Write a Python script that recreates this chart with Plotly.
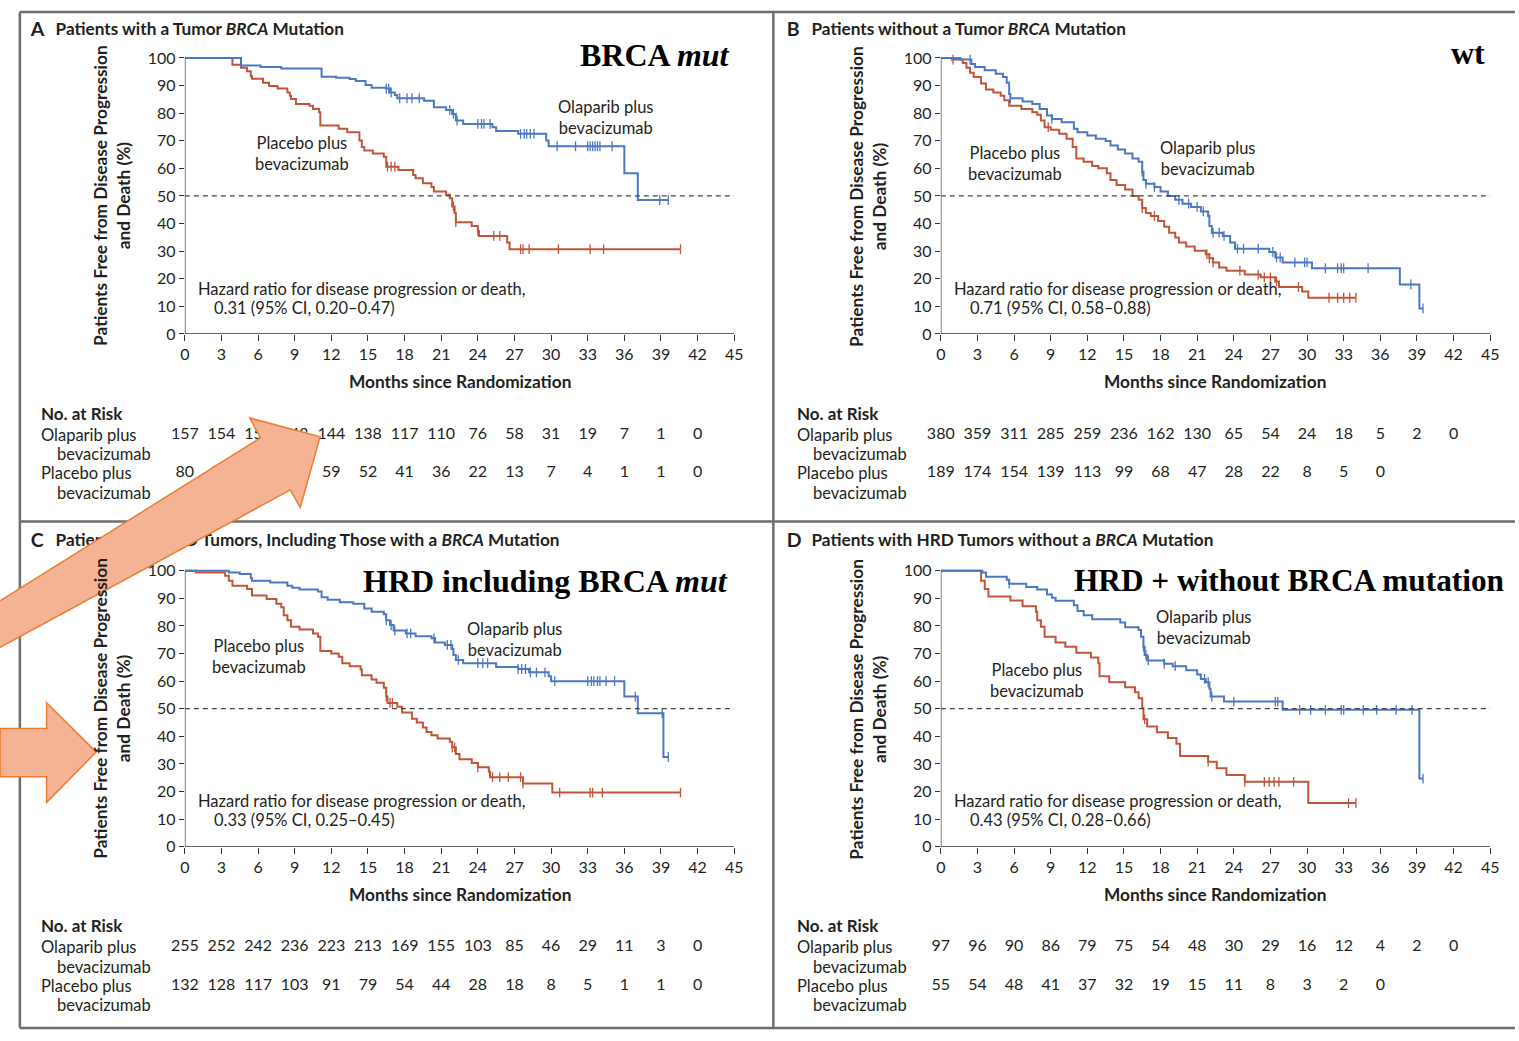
import plotly.graph_objects as go

WIN_W, WIN_H = 1519, 1041
OFF = 0
FW, FH = WIN_W - 2 * OFF, WIN_H - 2 * OFF

BLUE = "#4b78c0"
RED = "#c0553a"
INK = "#231f20"
FONT = "Lato"
SERIF = "Liberation Serif"

# ---------------- data ----------------
x_ticks = list(range(0, 46, 3))
y_ticks = list(range(0, 101, 10))
risk_months = list(range(0, 43, 3))

# Panel A: BRCA mutation
a_ola_t = [0, 4.6, 6.2, 7.9, 11.2, 12.4, 13.5, 14.0, 14.8, 15.3, 16.5, 16.8, 17.2, 17.4, 19.6, 20.4,
           21.4, 21.9, 22.2, 22.8, 25.2, 25.5, 27.3, 29.6, 29.8, 36.0, 37.1]
a_ola_s = [100, 97.3, 96.7, 96.2, 93.2, 92.8, 92.4, 91.6, 90.2, 89.2, 88.9, 87.5, 86.6, 85.4, 84.5, 82.1,
           81.1, 79.7, 77.3, 76.1, 74.9, 73.5, 72.5, 70.1, 68.0, 58.2, 48.5]
a_ola_end = 39.6
a_ola_cens = [16.5, 16.7, 16.9, 17.6, 18.2, 18.6, 19.2, 21.7, 22.0, 22.3, 24.0, 24.3, 24.5, 25.0, 27.5,
              27.8, 28.0, 28.3, 28.6, 30.5, 32.0, 33.0, 33.2, 33.4, 33.6, 33.8, 34.0, 35.0, 38.9, 39.6]
a_pla_t = [0, 3.9, 4.6, 5.1, 5.4, 5.5, 6.4, 6.9, 7.6, 8.4, 8.6, 8.7, 9.1, 10.2, 10.5, 11.0, 11.1, 12.6,
           13.3, 14.3, 14.5, 14.7, 15.4, 16.3, 16.5, 17.5, 18.7, 18.9, 19.5, 20.2, 20.4, 21.4, 21.7, 21.9,
           22.1, 22.2, 23.5, 24.0, 24.1, 26.4, 26.6]
a_pla_s = [100, 97.5, 96.4, 95.2, 93.4, 92.5, 91.0, 89.8, 88.9, 87.5, 86.3, 85.1, 83.3, 82.7, 81.5, 80.3,
           75.5, 74.3, 73.1, 70.1, 67.7, 66.5, 65.4, 64.2, 60.6, 59.4, 57.6, 56.4, 54.6, 53.2, 51.6, 50.4,
           49.2, 46.2, 43.8, 40.5, 39.1, 37.3, 35.5, 33.1, 30.7]
a_pla_end = 40.6
a_pla_cens = [16.6, 16.9, 17.2, 22.0, 22.2, 24.0, 25.3, 25.8, 27.5, 27.7, 28.2, 30.6, 33.2, 34.3, 40.6]
a_risk_ola = [157, 154, 151, 148, 144, 138, 117, 110, 76, 58, 31, 19, 7, 1, 0]
a_risk_pla = [80, 77, 72, 67, 59, 52, 41, 36, 22, 13, 7, 4, 1, 1, 0]

# Panel B: without BRCA mutation
b_ola_t = [0, 1.6, 2.5, 2.8, 3.6, 4.5, 5.1, 5.4, 5.6, 5.7, 6.7, 7.5, 8.1, 8.7, 9.1, 9.9, 10.9, 11.2,
           12.0, 12.7, 13.5, 13.9, 14.5, 15.1, 15.7, 16.2, 16.5, 16.6, 16.8, 17.5, 18.0, 18.6, 19.2, 19.8,
           20.5, 21.3, 21.9, 22.0, 22.2, 23.1, 23.7, 24.1, 26.9, 27.4, 28.0, 30.4, 37.6, 39.2]
b_ola_s = [100, 99.4, 97.8, 96.7, 95.5, 94.3, 93.1, 91.0, 86.9, 85.4, 84.2, 83.3, 81.5, 79.1, 77.9, 76.7,
           74.3, 73.1, 71.9, 70.7, 69.9, 68.3, 66.8, 65.4, 63.6, 62.4, 58.8, 55.8, 54.4, 53.2, 51.6, 50.0,
           48.6, 47.2, 46.0, 44.4, 42.7, 39.1, 36.7, 35.5, 33.1, 30.9, 29.7, 27.7, 25.9, 23.8, 17.9, 9.2]
b_ola_end = 39.5
b_ola_cens = [2.4, 5.7, 9.1, 16.5, 16.8, 17.5, 19.5, 20.3, 21.0, 21.5, 22.3, 22.8, 23.2, 24.3, 24.8,
              26.0, 27.2, 27.5, 27.8, 29.0, 29.8, 30.0, 31.5, 32.5, 32.8, 33.0, 35.0, 38.5, 39.5]
b_pla_t = [0, 0.9, 1.8, 2.1, 2.4, 2.7, 3.3, 3.7, 4.3, 4.9, 5.2, 5.6, 6.6, 7.5, 7.9, 8.2, 8.5, 9.0, 9.7,
           10.3, 10.8, 11.1, 11.7, 12.4, 12.9, 13.6, 13.9, 14.4, 15.1, 15.7, 16.2, 16.5, 16.8, 17.2, 17.8,
           18.3, 18.7, 19.2, 19.5, 20.1, 20.8, 21.7, 22.0, 22.3, 22.8, 23.4, 24.9, 26.2, 27.4, 27.7, 29.6,
           30.1]
b_pla_s = [100, 99.4, 98.2, 96.4, 94.6, 93.1, 90.7, 88.6, 87.5, 86.3, 84.7, 82.7, 81.5, 80.3, 79.4, 77.3,
           74.9, 74.0, 72.5, 70.7, 67.7, 63.6, 62.4, 60.8, 60.0, 58.2, 55.8, 54.0, 52.3, 50.0, 48.6, 45.6,
           43.8, 42.7, 40.9, 38.8, 36.7, 34.9, 33.1, 31.7, 30.1, 28.9, 27.4, 25.9, 24.1, 22.9, 21.5, 20.5,
           19.0, 17.0, 15.4, 13.1]
b_pla_end = 34.0
b_pla_cens = [1.0, 8.8, 16.5, 17.5, 21.8, 22.0, 22.3, 24.5, 26.0, 26.5, 27.0, 27.5, 29.3, 31.8, 32.5,
              33.0, 33.5, 34.0]
b_risk_ola = [380, 359, 311, 285, 259, 236, 162, 130, 65, 54, 24, 18, 5, 2, 0]
b_risk_pla = [189, 174, 154, 139, 113, 99, 68, 47, 28, 22, 8, 5, 0]

# Panel C: HRD including BRCA mutation
c_ola_t = [0, 3.6, 4.5, 5.4, 5.5, 7.0, 8.4, 8.8, 9.4, 10.9, 11.2, 11.7, 12.7, 13.8, 14.7, 15.3, 16.3,
           16.5, 16.8, 17.1, 18.1, 18.9, 20.2, 20.5, 21.3, 21.9, 22.0, 22.2, 22.8, 25.5, 27.3, 28.2, 29.8,
           30.0, 36.0, 37.1, 39.2]
c_ola_s = [100, 99.4, 98.8, 97.4, 96.4, 95.7, 94.6, 93.8, 93.2, 92.5, 90.4, 89.5, 88.6, 88.0, 86.3, 85.1,
           84.2, 82.1, 80.3, 78.3, 77.3, 76.3, 75.5, 74.0, 73.1, 71.6, 69.5, 67.7, 66.5, 65.1, 64.4, 63.2,
           61.8, 60.0, 54.4, 48.4, 32.5]
c_ola_end = 39.6
c_ola_cens = [16.5, 16.9, 17.2, 18.2, 18.5, 20.4, 21.5, 21.8, 22.4, 24.0, 24.4, 24.8, 27.3, 27.6, 27.9,
              28.3, 28.8, 29.5, 30.3, 33.0, 33.3, 33.5, 33.8, 34.0, 34.5, 35.2, 36.9, 39.1, 39.6]
c_pla_t = [0, 0.9, 3.3, 3.6, 3.9, 5.1, 5.5, 6.7, 7.5, 7.9, 8.1, 8.4, 8.7, 9.4, 10.5, 10.9, 11.1, 12.0,
           12.6, 12.9, 13.5, 14.4, 14.5, 15.3, 15.7, 16.3, 16.5, 16.6, 17.4, 17.8, 18.6, 19.0, 19.5, 19.8,
           20.2, 20.7, 21.7, 21.9, 22.2, 22.5, 23.5, 24.0, 24.9, 25.0, 27.7, 30.1]
c_pla_s = [100, 99.4, 98.2, 96.4, 94.6, 93.4, 91.0, 89.8, 88.0, 86.8, 83.9, 82.1, 79.7, 78.7, 77.3, 76.1,
           70.9, 70.0, 68.8, 66.5, 65.4, 64.2, 62.1, 60.6, 59.4, 57.6, 54.4, 52.1, 50.7, 48.6, 46.4, 45.0,
           43.2, 41.6, 40.4, 39.2, 38.0, 36.0, 33.6, 31.7, 30.3, 28.8, 27.2, 25.2, 22.9, 19.6]
c_pla_end = 40.6
c_pla_cens = [16.5, 16.8, 17.0, 21.9, 22.1, 24.0, 25.2, 25.8, 26.5, 27.5, 27.7, 30.7, 33.2, 33.4, 34.2, 40.6]
c_risk_ola = [255, 252, 242, 236, 223, 213, 169, 155, 103, 85, 46, 29, 11, 3, 0]
c_risk_pla = [132, 128, 117, 103, 91, 79, 54, 44, 28, 18, 8, 5, 1, 1, 0]

# Panel D: HRD without BRCA mutation
d_ola_t = [0, 3.4, 3.7, 5.4, 5.6, 7.0, 7.9, 8.7, 9.1, 9.4, 10.9, 11.2, 11.7, 12.4, 14.7, 15.1, 16.2,
           16.4, 16.6, 16.7, 16.9, 18.3, 19.0, 20.1, 21.0, 21.3, 21.7, 22.0, 22.1, 23.2, 28.0, 39.2]
d_ola_s = [100, 99.4, 97.8, 96.7, 95.3, 94.1, 93.2, 91.4, 90.2, 89.1, 87.5, 85.4, 83.9, 82.4, 81.2, 79.5,
           78.5, 76.1, 72.5, 69.5, 67.5, 66.3, 65.4, 63.9, 62.4, 60.8, 59.6, 57.2, 54.4, 52.6, 49.6, 24.7]
d_ola_end = 39.5
d_ola_cens = [5.6, 16.6, 16.8, 17.0, 18.3, 19.2, 21.6, 21.9, 22.2, 24.0, 27.4, 27.6, 29.4, 30.3, 31.5,
              32.8, 33.0, 34.6, 35.7, 37.3, 38.6, 39.5]
d_pla_t = [0, 3.3, 3.6, 3.9, 5.7, 6.7, 7.8, 7.9, 8.2, 8.5, 9.4, 10.2, 11.1, 12.3, 12.9, 13.0, 13.8,
           15.1, 15.9, 16.2, 16.5, 16.6, 16.9, 17.7, 18.6, 19.3, 19.6, 21.9, 22.6, 23.4, 24.9, 30.1]
d_pla_s = [100, 96.4, 93.4, 90.7, 89.2, 87.1, 85.1, 82.1, 79.7, 76.1, 74.0, 72.5, 70.3, 68.6, 66.5, 61.8,
           59.6, 57.8, 56.0, 53.8, 50.3, 46.2, 43.6, 41.5, 39.4, 37.3, 32.9, 30.8, 28.4, 26.0, 23.5, 15.8]
d_pla_end = 34.0
d_pla_cens = [16.7, 21.9, 24.9, 26.5, 26.9, 27.3, 27.7, 28.9, 33.4, 34.0]
d_risk_ola = [97, 96, 90, 86, 79, 75, 54, 48, 30, 29, 16, 12, 4, 2, 0]
d_risk_pla = [55, 54, 48, 41, 37, 32, 19, 15, 11, 8, 3, 2, 0]

# ---------------- layout geometry (window pixels) ----------------
# (x at month 0, x at month 45, y at 100 %, y at 0 %)
GEOM = {
    1: (181.5, 736.0, 52.7, 332.7),
    2: (944.5, 1499.0, 52.7, 332.7),
    3: (181.5, 736.0, 573.0, 853.0),
    4: (944.5, 1499.0, 573.0, 853.0),
}
YMAX = 101.5
PAD = 3  # annotation inner padding


def PX(sx):
    return (sx - OFF) / FW


def PY(sy):
    return 1 - (sy - OFF) / FH


def step_val(t, s, x):
    v = s[0]
    for ti, si in zip(t, s):
        if ti <= x:
            v = si
    return v


panels = [
    dict(k=1, ola=(a_ola_t, a_ola_s, a_ola_end, a_ola_cens), pla=(a_pla_t, a_pla_s, a_pla_end, a_pla_cens),
         risk=(a_risk_ola, a_risk_pla)),
    dict(k=2, ola=(b_ola_t, b_ola_s, b_ola_end, b_ola_cens), pla=(b_pla_t, b_pla_s, b_pla_end, b_pla_cens),
         risk=(b_risk_ola, b_risk_pla)),
    dict(k=3, ola=(c_ola_t, c_ola_s, c_ola_end, c_ola_cens), pla=(c_pla_t, c_pla_s, c_pla_end, c_pla_cens),
         risk=(c_risk_ola, c_risk_pla)),
    dict(k=4, ola=(d_ola_t, d_ola_s, d_ola_end, d_ola_cens), pla=(d_pla_t, d_pla_s, d_pla_end, d_pla_cens),
         risk=(d_risk_ola, d_risk_pla)),
]

fig = go.Figure()
layout_axes = {}
shapes = []
annotations = []


def ref(k, axis):
    return axis if k == 1 else f"{axis}{k}"


for p in panels:
    k = p["k"]
    x0, x1, y100, y0 = GEOM[k]
    xr, yr = ref(k, "x"), ref(k, "y")
    for (t, s, end, cens), col in ((p["pla"], RED), (p["ola"], BLUE)):
        fig.add_trace(go.Scatter(x=t + [end], y=s + [s[-1]], mode="lines", xaxis=xr, yaxis=yr,
                                 line=dict(shape="hv", color=col, width=2), hoverinfo="skip",
                                 showlegend=False))
        fig.add_trace(go.Scatter(x=cens, y=[step_val(t, s, c) for c in cens], mode="markers",
                                 xaxis=xr, yaxis=yr,
                                 marker=dict(symbol="line-ns-open", size=7, color=col,
                                             line=dict(color=col, width=1.3)),
                                 hoverinfo="skip", showlegend=False))
    top = y100 - (YMAX - 100) * (y0 - y100) / 100.0
    layout_axes[ref(k, "xaxis")] = dict(
        domain=[PX(x0), PX(x1)], range=[0, 45], anchor=yr, tickvals=x_ticks, ticks="outside",
        ticklen=6, tickwidth=1.2, tickcolor="#333", showline=False, showgrid=False, zeroline=False,
        tickfont=dict(family=FONT, size=16, color=INK), fixedrange=True)
    layout_axes[ref(k, "yaxis")] = dict(
        domain=[PY(y0), PY(top)], range=[0, YMAX], anchor=xr, tickvals=y_ticks, ticks="outside",
        ticklen=5, tickwidth=1.2, tickcolor="#333", showline=False, showgrid=False, zeroline=False,
        tickfont=dict(family=FONT, size=16, color=INK), fixedrange=True)
    shapes.append(dict(type="line", xref=xr, yref=yr, x0=0, x1=45, y0=0, y1=0, line=dict(color="#333", width=1.3)))
    shapes.append(dict(type="line", xref=xr, yref=yr, x0=0, x1=0, y0=0, y1=100, line=dict(color="#333", width=1.3)))
    shapes.append(dict(type="line", xref=xr, yref=yr, x0=0, x1=45, y0=50, y1=50,
                       line=dict(color="#444", width=1.2, dash="5px,4px")))

# full-page overlay axis in window pixels: texts drawn here sit below the arrows
layout_axes["xaxis5"] = dict(domain=[0, 1], range=[OFF, OFF + FW], visible=False, fixedrange=True, anchor="y5")
layout_axes["yaxis5"] = dict(domain=[0, 1], range=[OFF + FH, OFF], visible=False, fixedrange=True, anchor="x5")


def page_text(xs, ys, texts, size, pos="middle right"):
    fig.add_trace(go.Scatter(x=xs, y=ys, mode="text", text=texts, textposition=pos,
                             textfont=dict(family=FONT, size=size, color=INK), xaxis="x5", yaxis="y5",
                             cliponaxis=False, hoverinfo="skip", showlegend=False))


titles = [
    (26, 25, "A", 51, "Patients with a Tumor <i>BRCA</i> Mutation"),
    (789, 25, "B", 814, "Patients without a Tumor <i>BRCA</i> Mutation"),
    (26, 544, "C", 51, "Patients with HRD Tumors, Including Those with a <i>BRCA</i> Mutation"),
    (789, 544, "D", 814, "Patients with HRD Tumors without a <i>BRCA</i> Mutation"),
]
for lx, ly, letter, tx, txt in titles:
    page_text([lx], [ly], ["<b>" + letter + "</b>"], 19.5)
    page_text([tx], [ly], ["<b>" + txt + "</b>"], 17.2)

# numbers at risk, centred under the month ticks of each panel
for p in panels:
    k = p["k"]
    x0, x1, _, _ = GEOM[k]
    base = 0 if k < 3 else 520
    for vals, py in ((p["risk"][0], 435 + base), (p["risk"][1], 474 + base)):
        xs = [x0 + m * (x1 - x0) / 45.0 for m in risk_months[:len(vals)]]
        page_text(xs, [py] * len(vals), [str(v) for v in vals], 16, pos="middle center")


def ann(sx, sy, text, size=16, xanchor="left", family=FONT, color=INK, angle=0, align="left"):
    if xanchor == "left":
        sx -= PAD
    elif xanchor == "right":
        sx += PAD
    annotations.append(dict(x=PX(sx), y=PY(sy), xref="paper", yref="paper", text=text, showarrow=False,
                            xanchor=xanchor, yanchor="middle", align=align, textangle=angle,
                            font=dict(family=family, size=size, color=color)))


HR = {1: "0.31 (95% CI, 0.20\u20130.47)", 2: "0.71 (95% CI, 0.58\u20130.88)",
      3: "0.33 (95% CI, 0.25\u20130.45)", 4: "0.43 (95% CI, 0.28\u20130.66)"}
for k in (1, 2, 3, 4):
    x0, x1, y100, y0 = GEOM[k]
    dx = x0 - 181.5
    dy = 0 if k < 3 else 520
    ann(108 + dx, (y100 + y0) / 2, "<b>Patients Free from Disease Progression<br>and Death (%)</b>",
        size=17.3, xanchor="center", angle=-90, align="center")
    ann((x0 + x1) / 2, 381 + dy, "<b>Months since Randomization</b>", size=17.3, xanchor="center")
    ann(196 + dx, 287 + dy, "Hazard ratio for disease progression or death,", size=16.5)
    ann(212 + dx, 306 + dy, HR[k], size=16.5)
    ann(37 + dx, 413 + dy, "<b>No. at Risk</b>", size=17)
    ann(37 + dx, 435 + dy, "Olaparib plus", size=16.5)
    ann(53 + dx, 455 + dy, "bevacizumab", size=16.5)
    ann(37 + dx, 474 + dy, "Placebo plus", size=16.5)
    ann(53 + dx, 494 + dy, "bevacizumab", size=16.5)

for (cx, cy) in ((607, 113.5), (1214, 154.5), (515, 642.5), (1210, 630.5)):
    ann(cx, cy, "Olaparib plus<br>bevacizumab", size=16.5, xanchor="center", align="center")
for (cx, cy) in ((300, 150), (1019, 159.5), (256, 660.5), (1042, 684.5)):
    ann(cx, cy, "Placebo plus<br>bevacizumab", size=16.5, xanchor="center", align="center")

ann(731, 50, "<b>BRCA <i>mut</i></b>", size=32, xanchor="right", family=SERIF, color="#000")
ann(1493, 48, "<b>wt</b>", size=32, xanchor="right", family=SERIF, color="#000")
ann(729, 583, "<b>HRD including BRCA <i>mut</i></b>", size=32, xanchor="right", family=SERIF, color="#000")
ann(1080, 583, "<b>HRD + without BRCA mutation</b>", size=31.3, xanchor="left", family=SERIF, color="#000")

FRAME = "#6e6e6e"
for (ax0, ay0, ax1, ay1) in ((15, 6, WIN_W + 5, 6), (15, 6, 15, 1037), (775.5, 6, 775.5, 1037),
                             (15, 523, WIN_W + 5, 523), (15, 1037, WIN_W + 5, 1037)):
    shapes.append(dict(type="line", xref="paper", yref="paper", x0=PX(ax0), x1=PX(ax1),
                       y0=PY(ay0), y1=PY(ay1), line=dict(color=FRAME, width=2.5)))


def path(pts):
    return "M " + " L ".join(f"{PX(x):.5f},{PY(y):.5f}" for x, y in pts) + " Z"


arrow1 = [(-20, 613), (258, 438), (247, 418), (318, 437), (298, 509), (288, 491), (-20, 659)]
arrow2 = [(-5, 733), (42, 733), (42, 707), (92, 757), (42, 808), (42, 782), (-5, 782)]
for pts in (arrow1, arrow2):
    shapes.append(dict(type="path", xref="paper", yref="paper", path=path(pts), layer="above",
                       fillcolor="#F4B394", line=dict(color="#ED7D31", width=1.5)))

fig.update_layout(width=FW, height=FH, margin=dict(l=0, r=0, t=0, b=0), paper_bgcolor="white",
                  plot_bgcolor="rgba(0,0,0,0)", showlegend=False, shapes=shapes, annotations=annotations,
                  font=dict(family=FONT, color=INK), **layout_axes)

fig.write_html("out.html", config={"displayModeBar": False},
               post_script="document.body.style.margin='0';document.body.style.overflow='hidden';")
